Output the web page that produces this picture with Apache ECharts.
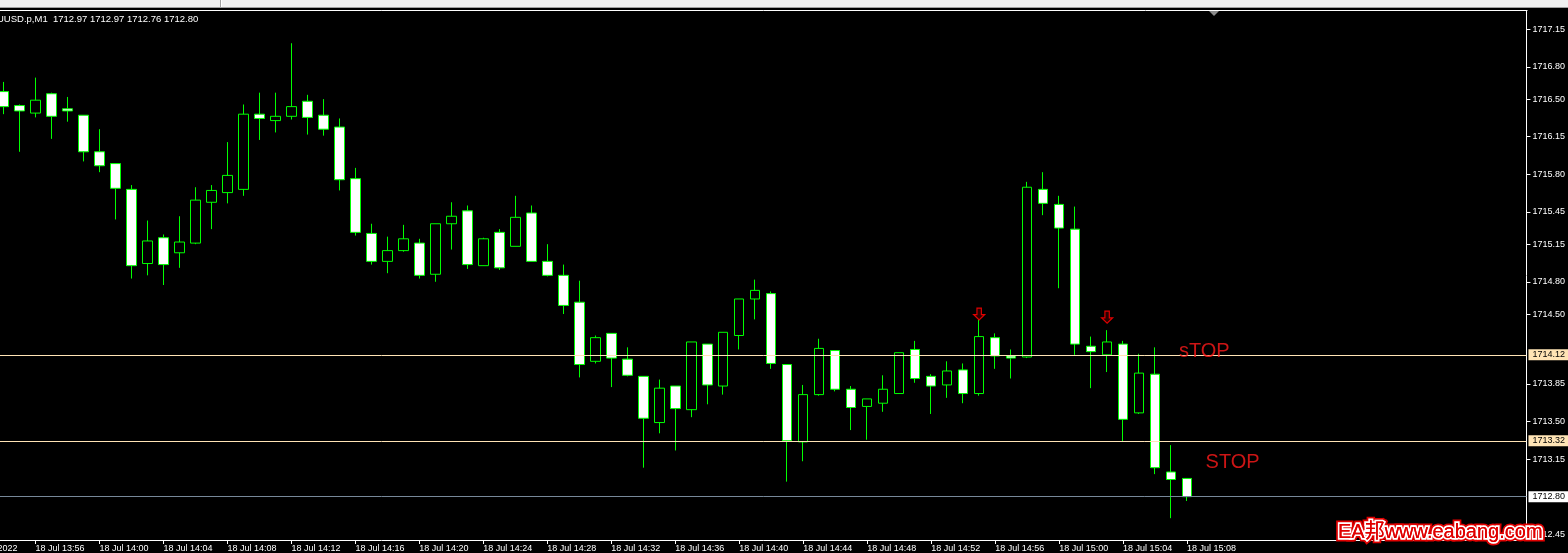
<!DOCTYPE html>
<html>
<head>
<meta charset="utf-8">
<script src="https://cdn.jsdelivr.net/npm/echarts@6.0.0/dist/echarts.min.js"></script>
<style>
html,body{margin:0;padding:0;background:#000;}
#chart{width:1568px;height:553px;}
</style>
</head>
<body>
<div id="chart"></div>
<script>
// ---- data ----
const times = ['13:54','13:55','13:56','13:57','13:58','13:59','14:00','14:01','14:02','14:03',
 '14:04','14:05','14:06','14:07','14:08','14:09','14:10','14:11','14:12','14:13',
 '14:14','14:15','14:16','14:17','14:18','14:19','14:20','14:21','14:22','14:23',
 '14:24','14:25','14:26','14:27','14:28','14:29','14:30','14:31','14:32','14:33',
 '14:34','14:35','14:36','14:37','14:38','14:39','14:40','14:41','14:42','14:43',
 '14:44','14:45','14:46','14:47','14:48','14:49','14:50','14:51','14:52','14:53',
 '14:54','14:55','14:56','14:57','14:58','14:59','15:00','15:01','15:02','15:03',
 '15:04','15:05','15:06','15:07','15:08'];
const opens = [1716.57,1716.44,1716.37,1716.55,1716.41,1716.35,1716.01,1715.90,1715.66,1714.97,
 1715.21,1715.07,1715.16,1715.54,1715.63,1715.66,1716.36,1716.30,1716.34,1716.48,
 1716.35,1716.24,1715.76,1715.25,1714.99,1715.09,1715.16,1714.87,1715.34,1715.46,
 1714.95,1715.26,1715.13,1715.44,1714.99,1714.86,1714.61,1714.06,1714.32,1714.08,
 1713.92,1713.49,1713.83,1713.61,1714.22,1713.83,1714.30,1714.64,1714.69,1714.03,
 1713.31,1713.75,1714.16,1713.80,1713.64,1713.67,1713.76,1714.17,1713.92,1713.84,
 1713.98,1713.76,1714.28,1714.11,1714.10,1715.66,1715.52,1715.29,1714.20,1714.12,
 1714.22,1713.58,1713.94,1713.03,1712.97];
const highs = [1716.66,1716.45,1716.70,1716.56,1716.52,1716.35,1716.22,1715.90,1715.70,1715.37,
 1715.24,1715.41,1715.68,1715.70,1716.10,1716.45,1716.56,1716.56,1717.02,1716.54,
 1716.50,1716.32,1715.86,1715.34,1715.22,1715.33,1715.20,1715.34,1715.54,1715.51,
 1715.21,1715.29,1715.60,1715.51,1715.15,1714.96,1714.81,1714.30,1714.32,1714.19,
 1713.92,1713.89,1713.83,1714.24,1714.22,1714.33,1714.64,1714.82,1714.71,1714.03,
 1713.84,1714.27,1714.16,1713.83,1713.71,1713.93,1714.14,1714.25,1713.94,1714.06,
 1714.04,1714.46,1714.32,1714.17,1715.73,1715.82,1715.60,1715.50,1714.29,1714.35,
 1714.25,1714.13,1714.19,1713.28,1712.97];
const lows = [1716.36,1716.01,1716.33,1716.13,1716.29,1715.92,1715.82,1715.38,1714.83,1714.86,
 1714.77,1714.93,1715.15,1715.29,1715.53,1715.60,1716.12,1716.19,1716.31,1716.17,
 1716.16,1715.65,1715.23,1714.96,1714.88,1715.08,1714.83,1714.80,1715.10,1714.92,
 1714.95,1714.91,1715.13,1714.99,1714.85,1714.50,1713.91,1714.04,1713.82,1713.92,
 1713.07,1713.39,1713.23,1713.54,1713.66,1713.75,1714.17,1714.45,1713.99,1712.94,
 1713.13,1713.74,1713.78,1713.42,1713.33,1713.59,1713.76,1713.86,1713.57,1713.72,
 1713.67,1713.74,1713.99,1713.90,1714.09,1715.42,1714.74,1714.12,1713.81,1713.96,
 1713.31,1713.57,1713.01,1712.60,1712.76];
const closes = [1716.43,1716.39,1716.49,1716.34,1716.39,1716.01,1715.88,1715.67,1714.95,1715.18,
 1714.96,1715.17,1715.56,1715.65,1715.79,1716.36,1716.32,1716.34,1716.43,1716.33,
 1716.22,1715.75,1715.26,1714.99,1715.09,1715.20,1714.86,1715.34,1715.41,1714.96,
 1715.20,1714.93,1715.40,1714.99,1714.86,1714.58,1714.03,1714.28,1714.09,1713.93,
 1713.53,1713.81,1713.62,1714.24,1713.84,1714.33,1714.64,1714.72,1714.04,1713.32,
 1713.75,1714.18,1713.80,1713.63,1713.71,1713.80,1714.14,1713.90,1713.83,1713.97,
 1713.76,1714.29,1714.11,1714.09,1715.68,1715.53,1715.30,1714.22,1714.15,1714.24,
 1713.52,1713.95,1713.07,1712.96,1712.80];

// x-axis tick positions (bar index, 0 = 13:54) and their labels
const xTickValues = [2,6,10,14,18,22,26,30,34,38,42,46,50,54,58,62,66,70,74];
const xTickLabels = ['18 Jul 13:56','18 Jul 14:00','18 Jul 14:04','18 Jul 14:08',
 '18 Jul 14:12','18 Jul 14:16','18 Jul 14:20','18 Jul 14:24','18 Jul 14:28','18 Jul 14:32',
 '18 Jul 14:36','18 Jul 14:40','18 Jul 14:44','18 Jul 14:48','18 Jul 14:52','18 Jul 14:56',
 '18 Jul 15:00','18 Jul 15:04','18 Jul 15:08'];
const leftDateLabel = '18 Jul 2022';   // label of the tick just left of the visible window
// price-axis tick labels
const yTickValues = [1712.45,1713.15,1713.50,1713.85,1714.50,1714.80,1715.15,1715.45,1715.80,1716.15,1716.50,1716.80,1717.15];
// horizontal levels
const levelValues = [1714.12, 1713.32, 1712.80];
// signal arrows (bar index, price)
const arrowX = [61, 69];
const arrowY = [1714.50, 1714.47];
// text objects
const noteText = ['sTOP', 'STOP'];
const noteX = [73.52, 75.19];
const noteY = [1714.15, 1713.11];
const headerText = 'UUSD.p,M1  1712.97 1712.97 1712.76 1712.80';

// ---- build ----
const candleData = opens.map((o, i) => [i, o, closes[i], lows[i], highs[i]]);
const levelColors = ['#ffe4b5', '#ffe4b5', '#778899'];
const levelLabelBg = ['#ffe4b5', '#ffe4b5', '#ffffff'];
const font = 'Liberation Sans, Arial, sans-serif';

const chart = echarts.init(document.getElementById('chart'), null, {renderer: 'canvas'});
chart.setOption({
  backgroundColor: '#000000',
  animation: false,
  grid: {left: 0, right: 41, top: 11, bottom: 13, containLabel: false},
  xAxis: {
    type: 'value',
    min: -0.21875, max: 95.21875,
    splitLine: {show: false},
    axisLine: {show: true, onZero: false, lineStyle: {color: '#ffffff', width: 1}},
    axisTick: {show: true, length: 4, lineStyle: {color: '#ffffff'}, customValues: xTickValues},
    axisLabel: {
      show: true, color: '#ffffff', fontSize: 9, fontFamily: font, align: 'left', margin: 4,
      customValues: xTickValues,
      formatter: v => { const k = xTickValues.indexOf(Math.round(v)); return k >= 0 ? xTickLabels[k] : ''; }
    }
  },
  yAxis: {
    type: 'value', position: 'right', scale: true,
    min: 1712.397, max: 1717.32,
    splitLine: {show: false},
    axisLine: {show: true, onZero: false, lineStyle: {color: '#ffffff', width: 1}},
    axisTick: {show: true, length: 4, lineStyle: {color: '#ffffff'}, customValues: yTickValues},
    axisLabel: {
      show: true, color: '#ffffff', fontSize: 9, fontFamily: font, margin: 6,
      customValues: yTickValues,
      formatter: v => Number(v).toFixed(2)
    }
  },
  series: [
    {
      type: 'candlestick',
      data: candleData,
      barWidth: 10,
      itemStyle: {
        color: '#000000', borderColor: '#00ff00',
        color0: '#ffffff', borderColor0: '#00ff00',
        borderWidth: 1
      },
      markLine: {
        silent: true, symbol: ['none', 'none'], animation: false,
        data: levelValues.map((v, k) => ({
          yAxis: v,
          lineStyle: {color: levelColors[k], width: 1, type: 'solid'},
          label: {
            show: true, position: 'end', distance: 2,
            formatter: () => v.toFixed(2),
            color: '#000000', fontSize: 9, fontFamily: font,
            backgroundColor: levelLabelBg[k], padding: [1, 6, 1, 4], lineHeight: 9
          }
        }))
      }
    },
    {
      type: 'scatter',
      data: arrowX.map((x, k) => [x, arrowY[k]]),
      symbol: 'path://M3,0 L7,0 L7,6 L10,6 L5,11 L0,6 L3,6 Z',
      symbolSize: [11, 12],
      itemStyle: {color: '#2a0000', borderColor: '#e00000', borderWidth: 1.2, opacity: 1},
      silent: true, z: 5
    },
    {
      type: 'scatter',
      data: noteText.map((t, k) => ({name: t, value: [noteX[k], noteY[k]]})),
      symbolSize: 1,
      itemStyle: {color: 'rgba(0,0,0,0)'},
      label: {
        show: true, formatter: '{b}', position: [0, 0], align: 'left', verticalAlign: 'middle',
        color: '#ff1a1a', fontSize: 20, fontFamily: font
      },
      silent: true, z: 6
    }
  ],
  graphic: [
    {type: 'rect', shape: {x: 0, y: 0, width: 1568, height: 7}, style: {fill: '#f0f0f0'}, silent: true},
    {type: 'line', shape: {x1: 0, y1: 7.5, x2: 1568, y2: 7.5}, style: {stroke: '#a0a0a0', lineWidth: 1}, silent: true},
    {type: 'line', shape: {x1: 220.5, y1: 0, x2: 220.5, y2: 7}, style: {stroke: '#a0a0a0', lineWidth: 1}, silent: true},
    {type: 'line', shape: {x1: 221.5, y1: 0, x2: 221.5, y2: 7}, style: {stroke: '#ffffff', lineWidth: 1}, silent: true},
    {type: 'line', shape: {x1: 0, y1: 10.5, x2: 1527.5, y2: 10.5}, style: {stroke: '#ffffff', lineWidth: 1}, silent: true},
    {type: 'polygon', shape: {points: [[1209, 11], [1219, 11], [1214, 16]]}, style: {fill: '#8c8c8c'}, silent: true},
    {type: 'text', x: -3, y: 19, style: {text: headerText, fill: '#ffffff', font: '9.5px ' + font, verticalAlign: 'middle'}, silent: true},
    {type: 'text', x: -29, y: 549, style: {text: leftDateLabel, fill: '#ffffff', font: '9px ' + font, verticalAlign: 'middle'}, silent: true},
    {type: 'text', x: 1338, y: 532, z: 100, style: {text: 'EA邦www.eabang.com', fill: '#e00000', stroke: '#e00000', lineWidth: 7, font: '20px Liberation Sans, Noto Sans CJK SC, sans-serif', verticalAlign: 'middle'}, silent: true},
    {type: 'text', x: 1338, y: 532, z: 101, style: {text: 'EA邦www.eabang.com', fill: '#e00000', stroke: '#ffffff', lineWidth: 3.5, font: '20px Liberation Sans, Noto Sans CJK SC, sans-serif', verticalAlign: 'middle'}, silent: true},
    {type: 'text', x: 1338, y: 532, z: 102, style: {text: 'EA邦www.eabang.com', fill: '#e00000', font: '20px Liberation Sans, Noto Sans CJK SC, sans-serif', verticalAlign: 'middle'}, silent: true}
  ]
});
</script>
</body>
</html>
